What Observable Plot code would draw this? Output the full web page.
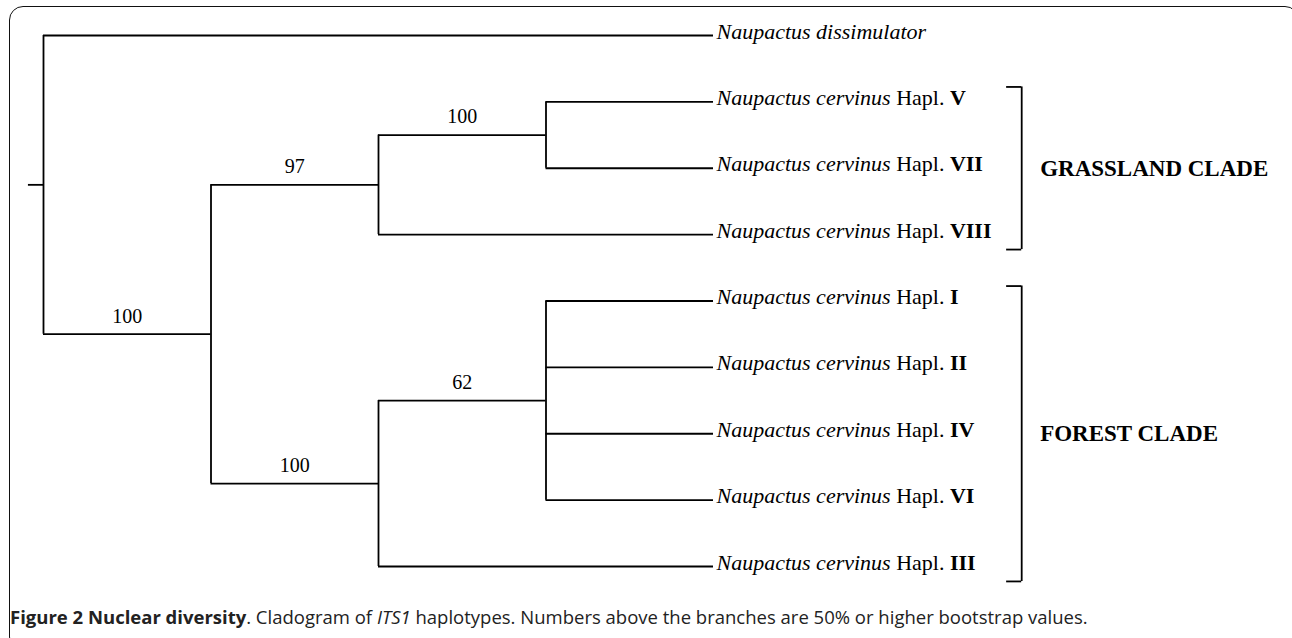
<!DOCTYPE html>
<html>
<head>
<meta charset="utf-8">
<script src="https://cdn.jsdelivr.net/npm/d3@7"></script>
<script src="https://cdn.jsdelivr.net/npm/@observablehq/plot@0.6"></script>
<style>
  html, body { margin: 0; padding: 0; background: #fff; }
  body { width: 1292px; height: 638px; overflow: hidden; position: relative; }
  #frame { position: absolute; left: 9px; top: 6px; width: 1290px; height: 645px;
           border: 1.6px solid #111; border-radius: 14px; box-sizing: border-box; }
  #chart { position: absolute; left: 0; top: 0; }
  #caption { position: absolute; left: 10px; top: 604px; font-family: "Open Sans", sans-serif;
             font-size: 18.5px; color: #222; white-space: nowrap; }
  #caption b { font-weight: 700; }
</style>
</head>
<body>
<div id="frame"></div>
<div id="chart"></div>
<div id="caption"><b>Figure 2 Nuclear diversity</b>. Cladogram of <i>ITS1</i> haplotypes. Numbers above the branches are 50% or higher bootstrap values.</div>
<script>
// ---- data ----
const leafIds     = ["diss", "V", "VII", "VIII", "I", "II", "IV", "VI", "III"];
const leafSpecies = ["Naupactus dissimulator", "Naupactus cervinus", "Naupactus cervinus", "Naupactus cervinus",
                     "Naupactus cervinus", "Naupactus cervinus", "Naupactus cervinus", "Naupactus cervinus", "Naupactus cervinus"];
const leafHapl    = ["", "V", "VII", "VIII", "I", "II", "IV", "VI", "III"];

const edgeParent  = ["root", "root", "ingroup", "ingroup", "grassland", "grassland", "g1", "g1", "forest", "forest", "f1", "f1", "f1", "f1"];
const edgeChild   = ["diss", "ingroup", "grassland", "forest", "g1", "VIII", "V", "VII", "f1", "III", "I", "II", "IV", "VI"];

const bootNode    = ["ingroup", "grassland", "g1", "forest", "f1"];
const bootValue   = [100, 97, 100, 100, 62];

const cladeNames  = ["GRASSLAND CLADE", "FOREST CLADE"];
const cladeFirst  = ["V", "I"];
const cladeLast   = ["VIII", "III"];

// ---- layout (cladogram: leaves aligned, order-based vertical positions) ----
const kids = new Map();
edgeParent.forEach((p, i) => { if (!kids.has(p)) kids.set(p, []); kids.get(p).push(edgeChild[i]); });
const parentOf = new Map(edgeChild.map((c, i) => [c, edgeParent[i]]));
const depth = new Map([["root", 0]]);
(function walk(n, d) { depth.set(n, d); (kids.get(n) || []).forEach(c => walk(c, d + 1)); })("root", 0);
const maxDepth = d3.max(leafIds, id => depth.get(id));
const X = new Map(), Y = new Map();
leafIds.forEach((id, i) => { X.set(id, maxDepth); Y.set(id, i); });
(function place(n) {
  const c = kids.get(n);
  if (!c) return;
  c.forEach(place);
  X.set(n, depth.get(n));
  Y.set(n, (Y.get(c[0]) + Y.get(c[c.length - 1])) / 2);
})("root");

const hBranches = edgeChild.map(c => ({x1: X.get(parentOf.get(c)), x2: X.get(c), y: Y.get(c)}));
const vBranches = [...kids.keys()].map(n => {
  const c = kids.get(n);
  return {x: X.get(n), y1: Y.get(c[0]), y2: Y.get(c[c.length - 1])};
});
const leaves = leafIds.map((id, i) => ({
  x: X.get(id), y: Y.get(id),
  label: leafHapl[i] ? `${leafSpecies[i]} Hapl. ${leafHapl[i]}` : leafSpecies[i]
}));
const boots = bootNode.map((n, i) => ({
  x: (X.get(parentOf.get(n)) + X.get(n)) / 2, y: Y.get(n), v: String(bootValue[i])
}));

// annotation geometry (in depth / row units)
const STUB = 0.09, BRACKET_X = 5.84, TICK = 0.09, LABEL_X = 5.95, PAD = 0.225;
const clades = cladeNames.map((name, i) => ({
  name, y1: Y.get(cladeFirst[i]) - PAD, y2: Y.get(cladeLast[i]) + PAD,
  ym: (Y.get(cladeFirst[i]) + Y.get(cladeLast[i])) / 2
}));
const cladeTicks = clades.flatMap(c => [{y: c.y1}, {y: c.y2}]);

const W = 1292, H = 600;
const SW = 1.8;
const serif = "'Liberation Serif', 'Times New Roman', serif";

const chart = Plot.plot({
  width: W, height: H,
  marginLeft: 43, marginRight: W - 713, marginTop: 35, marginBottom: H - 566,
  x: {domain: [0, maxDepth], axis: null},
  y: {domain: [0, leafIds.length - 1], reverse: true, axis: null},
  style: {background: "transparent", overflow: "visible"},
  marks: [
    Plot.ruleY(hBranches, {x1: "x1", x2: "x2", y: "y", stroke: "#000", strokeWidth: SW}),
    Plot.ruleX(vBranches, {x: "x", y1: "y1", y2: "y2", stroke: "#000", strokeWidth: SW}),
    Plot.ruleY([Y.get("root")], {x1: -STUB, x2: 0, stroke: "#000", strokeWidth: SW}),
    Plot.text(leaves, {x: "x", y: "y", text: "label", textAnchor: "start", dx: 3, dy: -4,
      fontSize: 22, fontFamily: serif, fontStyle: "italic", fill: "#000"}),
    Plot.text(boots, {x: "x", y: "y", text: "v", dy: -18, fontSize: 20, fontFamily: serif, fill: "#000"}),
    Plot.ruleX(clades, {x: BRACKET_X, y1: "y1", y2: "y2", stroke: "#000", strokeWidth: SW}),
    Plot.ruleY(cladeTicks, {y: "y", x1: BRACKET_X - TICK, x2: BRACKET_X, stroke: "#000", strokeWidth: SW}),
    Plot.text(clades, {x: LABEL_X, y: "ym", text: "name", textAnchor: "start", fontSize: 23,
      fontWeight: "bold", fontFamily: serif, fill: "#000"})
  ]
});
document.getElementById("chart").appendChild(chart);

// mixed styling for leaf labels: italic species, roman "Hapl.", bold numeral
d3.select(chart).selectAll("text").each(function() {
  const t = this.textContent;
  const m = t.match(/^(Naupactus .*?) Hapl\. (\S+)$/);
  if (!m) return;
  const sel = d3.select(this).style("white-space", "pre");
  sel.text(null);
  sel.append("tspan").attr("font-style", "italic").text(m[1]);
  sel.append("tspan").attr("font-style", "normal").text(" Hapl. ");
  sel.append("tspan").attr("font-style", "normal").attr("font-weight", "bold").text(m[2]);
});
</script>
</body>
</html>
